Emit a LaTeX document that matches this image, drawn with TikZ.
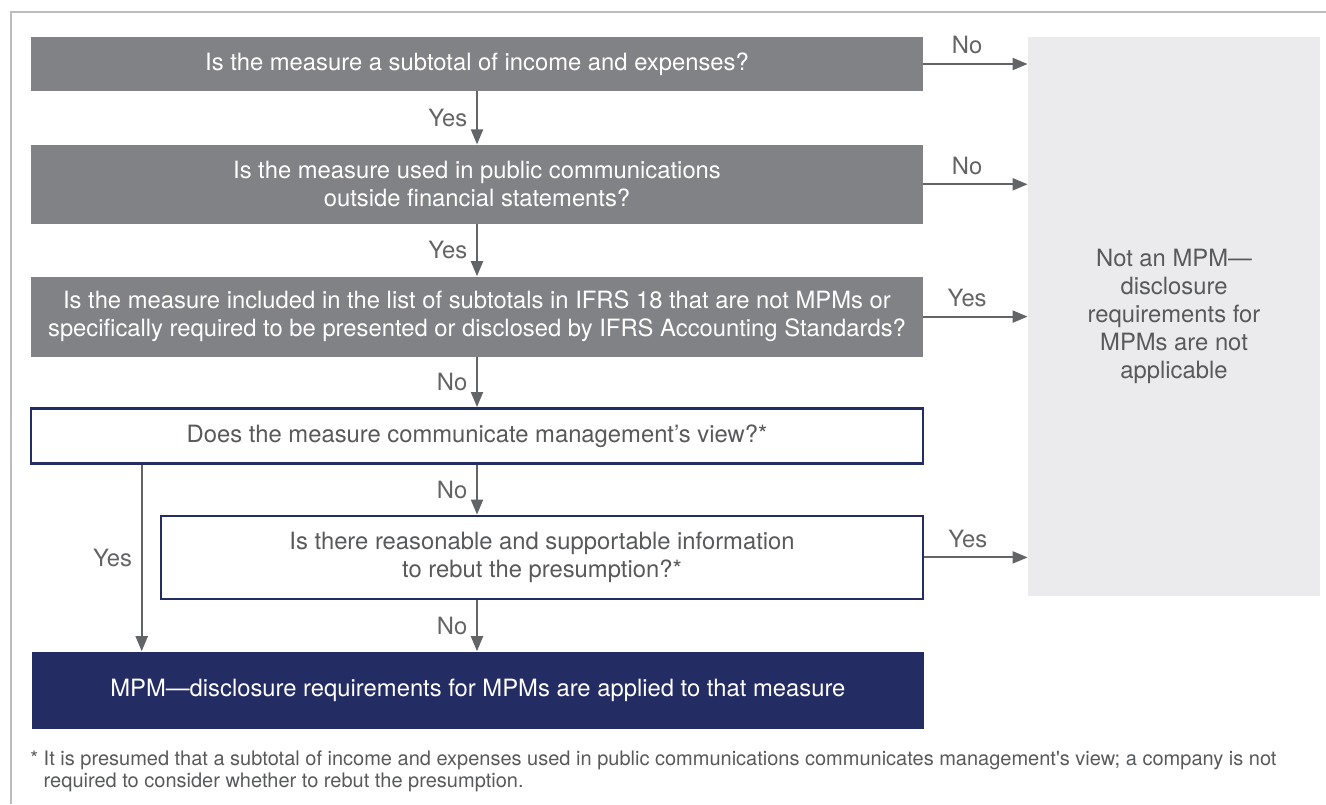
\documentclass[tikz,border=0pt]{standalone}
\usepackage{fontspec}
\setmainfont{TeX Gyre Heros}
\usetikzlibrary{arrows.meta, positioning}

\definecolor{boxgray}{HTML}{818285}
\definecolor{navy}{HTML}{242C64}
\definecolor{palegray}{HTML}{EBEBED}
\definecolor{linegray}{HTML}{636466}
\definecolor{textgray}{HTML}{58595B}
\definecolor{framegray}{HTML}{BCBDC0}

\begin{document}
\begin{tikzpicture}[x=0.5pt, y=-0.5pt,
  every node/.style={font=\fontsize{11.9}{14}\selectfont},
  question/.style={fill=boxgray, text=white, minimum width=446pt, inner sep=0pt, align=center},
  check/.style={draw=navy, line width=1.3pt, fill=white, text=textgray, inner sep=0pt, align=center},
  answer/.style={fill=navy, text=white, minimum width=446pt, inner sep=0pt, align=center},
  arr/.style={draw=linegray, line width=1pt, -{Triangle[length=7.5pt, width=6pt]}},
  lbl/.style={text=linegray}]

  \useasboundingbox (0,0) rectangle (1326,804);

  % Frame
  \draw[framegray, line width=1pt] (1326,12) -- (11,12) -- (11,804);

  % Questions
  \node[question, minimum height=27pt] (q1) at (477,64) {Is the measure a subtotal of income and expenses?};
  \node[question, minimum height=39.5pt, below=26.5pt of q1] (q2) {Is the measure used in public communications\\outside financial statements?};
  \node[question, minimum height=40pt, below=26pt of q2] (q3) {Is the measure included in the list of subtotals in IFRS 18 that are not MPMs or\\specifically required to be presented or disclosed by IFRS Accounting Standards?};
  \node[check, minimum width=446pt, minimum height=27.5pt, below=25pt of q3] (q4) {Does the measure communicate management’s view?*};
  \node[check, minimum width=381pt, minimum height=41.5pt, below=25pt of q4.south east, anchor=north east] (q5) {Is there reasonable and supportable information\\to rebut the presumption?*};

  % Outcomes
  \node[answer, minimum height=38.5pt, below=25.5pt of q5.south east, anchor=north east] (mpm) {MPM—disclosure requirements for MPMs are applied to that measure};
  \node[fill=palegray, text=textgray, minimum width=146pt, minimum height=279.5pt, inner sep=0pt, align=center] (notmpm) at (1174,316.5) {Not an MPM—\\disclosure\\requirements for\\MPMs are not\\applicable};

  % Down the chain
  \draw[arr] (q1) -- (q2) node[lbl, midway, left=1pt] {Yes};
  \draw[arr] (q2) -- (q3) node[lbl, midway, left=1pt] {Yes};
  \draw[arr] (q3) -- (q4) node[lbl, midway, left=1pt] {No};
  \draw[arr] (q4.south) -- (q4.south |- q5.north) node[lbl, midway, left=1pt] {No};
  \draw[arr] (q4.south |- q5.south) -- (q4.south |- mpm.north) node[lbl, midway, left=1pt] {No};
  \draw[arr] ([xshift=56pt]q4.south west) -- ([xshift=56pt]q4.south west |- mpm.north) node[lbl, midway, left=1pt] {Yes};

  % Out to the right
  \draw[arr] (q1.east) -- (q1.east -| notmpm.west) node[lbl, pos=0.42, above=1pt] {No};
  \draw[arr] (q2.east) -- (q2.east -| notmpm.west) node[lbl, pos=0.42, above=1pt] {No};
  \draw[arr] (q3.east) -- (q3.east -| notmpm.west) node[lbl, pos=0.42, above=1pt] {Yes};
  \draw[arr] (q5.east) -- (q5.east -| notmpm.west) node[lbl, pos=0.42, above=1pt] {Yes};

  % Footnote
  \node[anchor=north west, inner sep=0pt, align=left, text=textgray, font=\fontsize{10}{11.4}\selectfont] (note) at (30,750) {*~It is presumed that a subtotal of income and expenses used in public communications communicates management\textquotesingle s view; a company is not\\\phantom{*~}required to consider whether to rebut the presumption.};

\end{tikzpicture}
\end{document}
